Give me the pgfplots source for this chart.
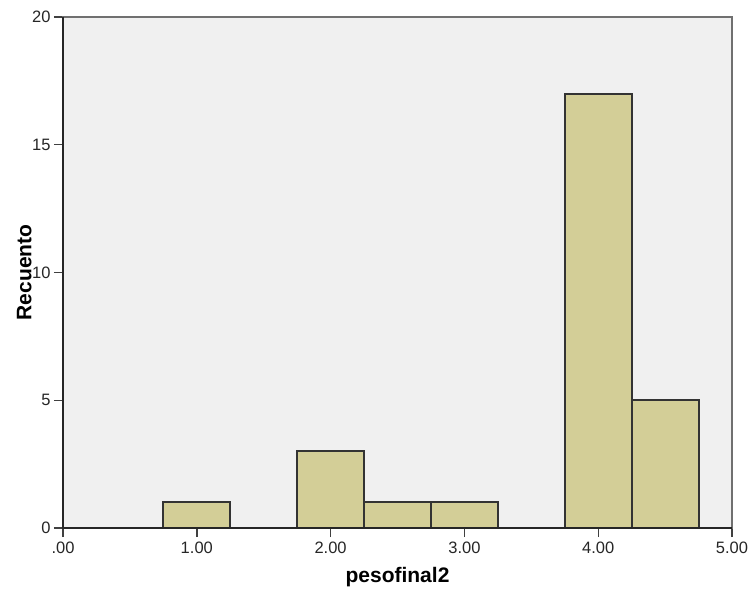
\documentclass[border=0pt]{standalone}
\usepackage{fontspec}
\setmainfont{Liberation Sans}
\usepackage{pgfplots}
\pgfplotsset{compat=1.18}
\definecolor{barfill}{HTML}{D3CE97}
\definecolor{plotbg}{HTML}{F0F0F0}
\definecolor{framegray}{HTML}{707070}
\begin{document}
\begin{tikzpicture}[x=1pt,y=1pt]
\begin{axis}[
  at={(0,0)}, anchor=south west,
  scale only axis, width=669pt, height=511pt,
  xmin=0, xmax=5, ymin=0, ymax=20,
  xtick={0,1,2,3,4,5},
  xticklabels={.00,1.00,2.00,3.00,4.00,5.00},
  ytick={0,5,10,15,20},
  yticklabels={0,5,10,15,20},
  tick align=outside, xtick pos=bottom, ytick pos=left,
  major tick length=9pt,
  tick style={black!75, line width=1.4pt},
  axis line style={draw=framegray, line width=1.6pt},
  axis background/.style={fill=plotbg},
  ticklabel style={font=\fontsize{16.5}{19}\selectfont, text=black!85},
  xticklabel style={yshift=-1pt},
  yticklabel style={xshift=0pt},
  xlabel={pesofinal2}, ylabel={Recuento},
  label style={font=\fontsize{21}{24}\selectfont\bfseries},
  x label style={at={(axis description cs:0.5,-0.096)}, anchor=center},
  y label style={at={(axis description cs:-0.058,0.5)}, anchor=center},
  clip=false,
]
\addplot[ybar, bar width=0.5, bar shift=0pt, fill=barfill,
  draw=black!80, line width=2pt]
  coordinates {(1,1) (2,3) (2.5,1) (3,1) (4,17) (4.5,5)};
\draw[black!85, line width=1.8pt] (rel axis cs:0,1) -- (rel axis cs:0,0) -- (rel axis cs:1,0);
\end{axis}
\pgfresetboundingbox
\path (-63,-64) rectangle (689,528);
\end{tikzpicture}
\end{document}
